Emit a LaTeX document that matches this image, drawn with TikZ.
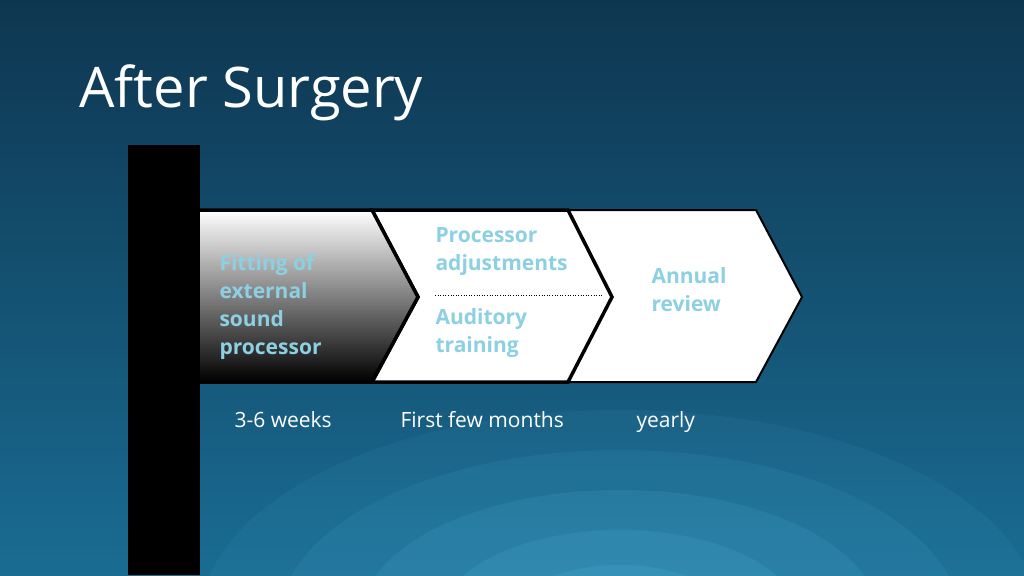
\documentclass[tikz,border=0pt]{standalone}
\usepackage{fontspec}
\setmainfont{Open Sans}
\begin{document}
\begin{tikzpicture}[x=1pt,y=-1pt,
  lbl/.style={font=\bfseries\fontsize{21}{28}\selectfont, align=left, anchor=north west},
  captxt/.style={font=\fontsize{21}{24}\selectfont, text=white, anchor=base west},
  chev/.style={draw=black, line width=3.5pt, line join=miter}]
\definecolor{bgtop}{HTML}{0E3650}
\definecolor{bgbot}{HTML}{1A6C93}
\definecolor{lb}{HTML}{8CD0E2}
\useasboundingbox (0,0) rectangle (1024,575);
\fill[top color=bgtop, bottom color=bgbot] (0,0) rectangle (1024,575);
\begin{scope}
\clip (0,0) rectangle (1024,575);
\shade[inner color=bgbot!60!cyan!80!white, outer color=bgbot!60!cyan!80!white, opacity=0.0] (0,0) rectangle (1,1);
\foreach \r/\o in {420/0.06,340/0.08,260/0.1,180/0.12,110/0.12}
  \fill[cyan!60!white, opacity=\o] (620,620) ellipse ({\r} and {\r*0.5});
\end{scope}
\node[font=\fontsize{56}{60}\selectfont, text=white, anchor=base west] (title) at (76,107) {After Surgery};
\fill[black] (128,145) rectangle (200,575);
% third chevron
\draw[fill=white, draw=black, line width=2pt] (568,210) -- (756,210) -- (802,297) -- (756,382) -- (568,382) -- (612,297) -- cycle;
% second chevron
\draw[chev, fill=white] (372,210) -- (568,210) -- (612,297) -- (568,382) -- (372,382) -- (418,297) -- cycle;
% first chevron
\shade[top color=white, bottom color=black, middle color=black!50] (200,210) -- (372,210) -- (418,297) -- (372,382) -- (200,382) -- cycle;
\draw[chev] (200,210) -- (372,210) -- (418,297) -- (372,382) -- (200,382);
\draw[black, dotted, line width=0.6pt] (435,295) -- (602,295);
\node[lbl, text=lb] (t1) at (216,251) {Fitting of\\external\\sound\\processor};
\node[lbl, text=lb] (t2) at (432,224) {Processor\\adjustments};
\node[lbl, text=lb] (t3) at (432,305) {Auditory\\training};
\node[lbl, text=lb] (t4) at (648,264) {Annual\\review};
\node[captxt] (c1) at (231,427) {3-6 weeks};
\node[captxt] (c2) at (397,427) {First few months};
\node[captxt] (c3) at (633,427) {yearly};
\end{tikzpicture}
\end{document}
